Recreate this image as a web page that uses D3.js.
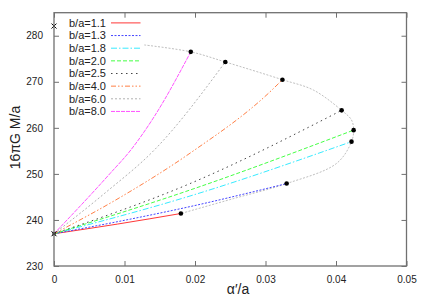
<!DOCTYPE html>
<html>
<head>
<meta charset="utf-8">
<script src="https://cdn.jsdelivr.net/npm/d3@7"></script>
<style>
body { margin: 0; background: #fff; }
text { font-family: "Liberation Sans", Arial, sans-serif; }
</style>
</head>
<body>
<div id="chart"></div>
<script>
// series labels, in legend order
var labels = ["b/a=1.1", "b/a=1.3", "b/a=1.8", "b/a=2.0", "b/a=2.5", "b/a=4.0", "b/a=6.0", "b/a=8.0"];

// each curve starts at the common point (0, 237) and ends at a black dot
var xs11 = [0, 0.009, 0.018];
var ys11 = [237, 239.1, 241.4];
var xs13 = [0, 0.0096, 0.0193, 0.033];
var ys13 = [237, 239.8, 242.9, 247.9];
var xs18 = [0, 0.0193, 0.0422];
var ys18 = [237, 245.2, 257.0];
var xs20 = [0, 0.0193, 0.0425];
var ys20 = [237, 246.5, 259.5];
var xs25 = [0, 0.0193, 0.0408];
var ys25 = [237, 247.9, 263.8];
var xs40 = [0, 0.0095, 0.0193, 0.0309, 0.0324];
var ys40 = [237, 245.0, 254.5, 268.2, 270.45];
var xs60 = [0, 0.0072, 0.0143, 0.0243];
var ys60 = [237, 245.8, 255.3, 274.3];
var xs80 = [0, 0.0079, 0.0109, 0.0142, 0.0194];
var ys80 = [237, 250, 255.2, 262.4, 276.5];

// grey envelope through the end points
var envX = [0.0128, 0.0194, 0.0243, 0.0324, 0.0368, 0.0408, 0.0422, 0.0425, 0.0422, 0.0401, 0.033, 0.0255, 0.018];
var envY = [278.0, 276.5, 274.3, 270.45, 268.2, 263.8, 261.7, 259.5, 257.0, 252.3, 247.9, 244.65, 241.4];

// the two cross markers on the y axis
var crossX = [0, 0];
var crossY = [237, 282.1];

var xTicks = [0, 0.01, 0.02, 0.03, 0.04, 0.05];
var yTicks = [230, 240, 250, 260, 270, 280];

function init(){
	chart();
}

function chart(){
	var width = 425;
	var height = 298;
	var left = 54, right = 406.5, top = 12.7, bottom = 266;

	var x = d3.scaleLinear().domain([0, 0.05]).range([left, right]);
	var y = d3.scaleLinear().domain([230, 285]).range([bottom, top]);

	var svg = d3.select("#chart").append("svg")
				.attr("width", width)
				.attr("height", height);

	var colors = ["#ff2020", "#3030ff", "#20e8ff", "#30ff30", "#303030", "#ff7030", "#a8a8a8", "#ff40ff"];
	var dashes = [null, "2,1.5", "6,2,1.5,2", "4,2", "1.5,3.5", "5,2,1.5,2,1.5,2", "2,2", "4,1"];
	var allX = [xs11, xs13, xs18, xs20, xs25, xs40, xs60, xs80];
	var allY = [ys11, ys13, ys18, ys20, ys25, ys40, ys60, ys80];

	var line = d3.line()
				 .x(d => x(d[0]))
				 .y(d => y(d[1]))
				 .curve(d3.curveMonotoneX);

	//envelope curve
	var env = envX.map((v, i) => [v, envY[i]]);
	svg.append("path")
	   .attr("d", d3.line().x(d => x(d[0])).y(d => y(d[1])).curve(d3.curveCatmullRom)(env))
	   .attr("fill", "none")
	   .attr("stroke", "#b8b8b8")
	   .attr("stroke-width", 0.9)
	   .attr("stroke-dasharray", "2,1.5");

	//series curves
	for (var i = 0; i < labels.length; i++) {
		var pts = allX[i].map((v, j) => [v, allY[i][j]]);
		svg.append("path")
		   .attr("d", line(pts))
		   .attr("fill", "none")
		   .attr("stroke", colors[i])
		   .attr("stroke-width", 0.9)
		   .attr("stroke-dasharray", dashes[i]);
	}

	//end points
	var ends = allX.map((a, i) => [a[a.length - 1], allY[i][allY[i].length - 1]]);
	svg.selectAll("circle.end").data(ends).enter()
	   .append("circle")
	   .attr("cx", d => x(d[0]))
	   .attr("cy", d => y(d[1]))
	   .attr("r", 2.3)
	   .attr("fill", "black");

	//cross markers
	svg.selectAll("path.cross").data(crossX.map((v, i) => [v, crossY[i]])).enter()
	   .append("path")
	   .attr("d", d => {
		   var px = x(d[0]), py = y(d[1]), s = 2.5;
		   return "M" + (px - s) + "," + (py - s) + "L" + (px + s) + "," + (py + s) +
				  "M" + (px - s) + "," + (py + s) + "L" + (px + s) + "," + (py - s);
	   })
	   .attr("stroke", "black")
	   .attr("stroke-width", 1);
	svg.append("rect")
	   .attr("x", x(0) - 1.5)
	   .attr("y", y(237) - 1.5)
	   .attr("width", 3)
	   .attr("height", 3)
	   .attr("fill", "black");

	//frame and ticks
	var frame = "#707070";
	svg.append("rect")
	   .attr("x", left)
	   .attr("y", top)
	   .attr("width", right - left)
	   .attr("height", bottom - top)
	   .attr("fill", "none")
	   .attr("stroke", frame)
	   .attr("stroke-width", 1.3);

	var xAxis = d3.axisBottom(x).tickValues(xTicks).tickSize(-5).tickPadding(10)
				  .tickFormat(d => d === 0 ? "0" : d3.format(".2f")(d));
	var gx = svg.append("g").attr("transform", "translate(0," + bottom + ")").call(xAxis);
	var xTop = d3.axisTop(x).tickValues(xTicks).tickSize(-5).tickFormat("");
	var gxt = svg.append("g").attr("transform", "translate(0," + top + ")").call(xTop);

	var yAxis = d3.axisLeft(y).tickValues(yTicks).tickSize(-5).tickPadding(11);
	var gy = svg.append("g").attr("transform", "translate(" + left + ",0)").call(yAxis);
	var yRight = d3.axisRight(y).tickValues(yTicks).tickSize(-5).tickFormat("");
	var gyr = svg.append("g").attr("transform", "translate(" + right + ",0)").call(yRight);

	[gx, gxt, gy, gyr].forEach(function(g){
		g.select(".domain").remove();
		g.selectAll(".tick line").attr("stroke", frame).attr("stroke-width", 1);
		g.selectAll(".tick text")
		 .attr("fill", "#222")
		 .style("font-size", "10px")
		 .style("font-family", "Liberation Sans, Arial, sans-serif");
	});

	//axis titles
	svg.append("text")
	   .attr("x", 238)
	   .attr("y", 294)
	   .attr("text-anchor", "middle")
	   .attr("fill", "#222")
	   .style("font-size", "14px")
	   .text("\u03b1\u2032/a");

	svg.append("text")
	   .attr("transform", "translate(20,137.5) rotate(-90)")
	   .attr("text-anchor", "middle")
	   .attr("fill", "#222")
	   .style("font-size", "14px")
	   .text("16\u03c0G M/a");

	//legend
	var legend = svg.selectAll("g.legend").data(labels).enter()
					.append("g")
					.attr("transform", (d, i) => "translate(0," + (22.9 + i * 12.65) + ")");

	legend.append("text")
		  .attr("x", 106)
		  .attr("y", 3.8)
		  .attr("text-anchor", "end")
		  .attr("fill", "#222")
		  .style("font-size", "11px")
		  .text(d => d);

	legend.append("line")
		  .attr("x1", 111)
		  .attr("x2", 140.5)
		  .attr("y1", 0)
		  .attr("y2", 0)
		  .attr("stroke", (d, i) => colors[i])
		  .attr("stroke-width", 0.9)
		  .attr("stroke-dasharray", (d, i) => dashes[i]);
}

window.onload = init;
</script>
</body>
</html>
